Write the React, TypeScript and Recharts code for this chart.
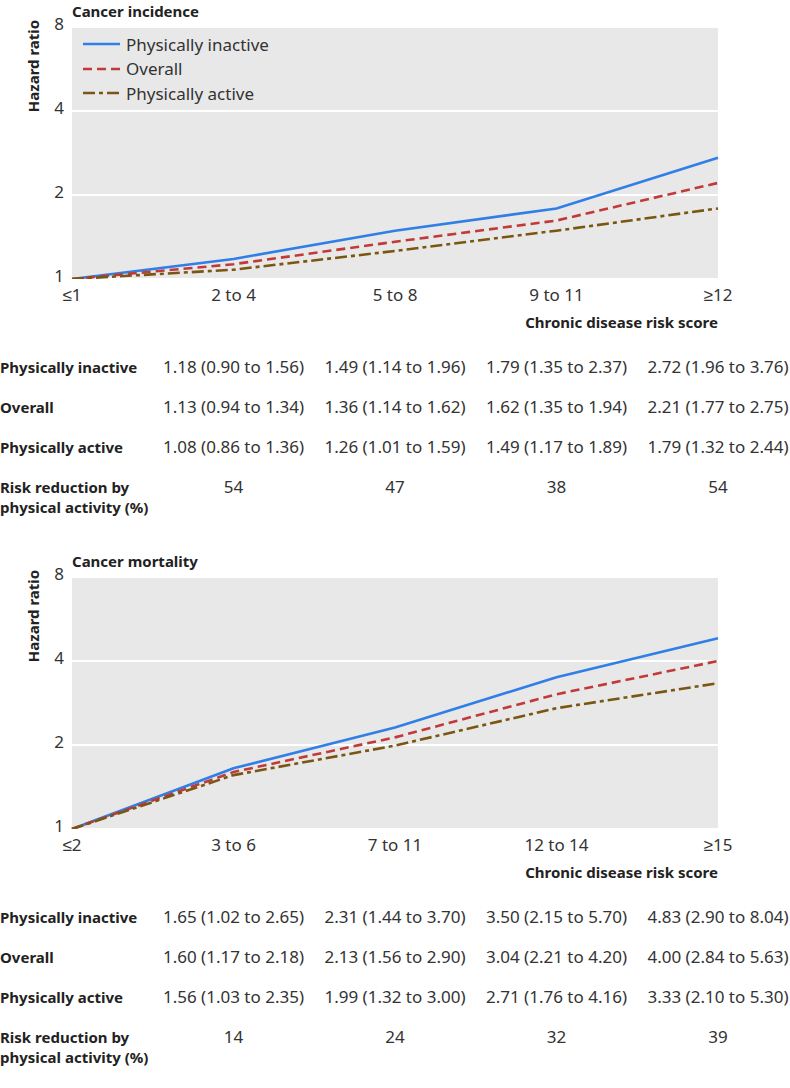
import { LineChart, Line, XAxis, YAxis, CartesianGrid } from 'recharts'

const incidenceCats = ['≤1', '2 to 4', '5 to 8', '9 to 11', '≥12']
const incidenceInactive = [1, 1.18, 1.49, 1.79, 2.72]
const incidenceOverall = [1, 1.13, 1.36, 1.62, 2.21]
const incidenceActive = [1, 1.08, 1.26, 1.49, 1.79]
const incidenceInactiveCI = [[0.9, 1.56], [1.14, 1.96], [1.35, 2.37], [1.96, 3.76]]
const incidenceOverallCI = [[0.94, 1.34], [1.14, 1.62], [1.35, 1.94], [1.77, 2.75]]
const incidenceActiveCI = [[0.86, 1.36], [1.01, 1.59], [1.17, 1.89], [1.32, 2.44]]
const incidenceReduction = [54, 47, 38, 54]

const mortalityCats = ['≤2', '3 to 6', '7 to 11', '12 to 14', '≥15']
const mortalityInactive = [1, 1.65, 2.31, 3.5, 4.83]
const mortalityOverall = [1, 1.6, 2.13, 3.04, 4.0]
const mortalityActive = [1, 1.56, 1.99, 2.71, 3.33]
const mortalityInactiveCI = [[1.02, 2.65], [1.44, 3.7], [2.15, 5.7], [2.9, 8.04]]
const mortalityOverallCI = [[1.17, 2.18], [1.56, 2.9], [2.21, 4.2], [2.84, 5.63]]
const mortalityActiveCI = [[1.03, 2.35], [1.32, 3.0], [1.76, 4.16], [2.1, 5.3]]
const mortalityReduction = [14, 24, 32, 39]

const yTicks = [1, 2, 4, 8]

const FONT = '"Noto Sans", sans-serif'
const FS = 17 // regular text
const FB = 15 // bold labels
const BLUE = '#2f7fe6'
const RED = '#c2393a'
const BROWN = '#7a5612'

const PLOT_LEFT = 72
const PLOT_RIGHT = 718
const PLOT_TOP = 27
const PLOT_BOTTOM = 279
const colX = (i: number) => PLOT_LEFT + ((PLOT_RIGHT - PLOT_LEFT) / 4) * i

const series = [
  { key: 'inactive', name: 'Physically inactive', color: BLUE, dash: undefined },
  { key: 'overall', name: 'Overall', color: RED, dash: '9 5' },
  { key: 'active', name: 'Physically active', color: BROWN, dash: '12 4 4 4' },
]

const fmt = (v: number) => v.toFixed(2)
const ciText = (vals: number[], ci: number[][]) =>
  vals.slice(1).map((v, i) => `${fmt(v)} (${fmt(ci[i][0])} to ${fmt(ci[i][1])})`)

function LegendBox() {
  return (
    <div style={{ position: 'absolute', left: 82, top: 32, fontFamily: FONT }}>
      {series.map((s) => (
        <div key={s.key} style={{ display: 'flex', alignItems: 'center', height: 24.5 }}>
          <svg width={40} height={6} style={{ marginRight: 4 }}>
            <line x1={1} y1={3} x2={38} y2={3} stroke={s.color} strokeWidth={2.6} strokeDasharray={s.dash} />
          </svg>
          <span style={{ fontSize: FS, color: '#333' }}>{s.name}</span>
        </div>
      ))}
    </div>
  )
}

interface PanelProps {
  top: number
  title: string
  cats: string[]
  inactive: number[]
  overall: number[]
  active: number[]
  inactiveCI: number[][]
  overallCI: number[][]
  activeCI: number[][]
  reduction: number[]
  showLegend: boolean
}

function Panel(p: PanelProps) {
  const data = p.cats.map((c, i) => ({
    cat: c,
    inactive: p.inactive[i],
    overall: p.overall[i],
    active: p.active[i],
  }))
  const rows = [
    { label: 'Physically inactive', vals: ciText(p.inactive, p.inactiveCI), y: 340 },
    { label: 'Overall', vals: ciText(p.overall, p.overallCI), y: 380 },
    { label: 'Physically active', vals: ciText(p.active, p.activeCI), y: 420 },
  ]
  const base = p.top - PLOT_TOP
  const lbl = { position: 'absolute' as const, fontSize: FB, fontWeight: 700, color: '#222', lineHeight: '20px' }
  const val = { position: 'absolute' as const, fontSize: FS, color: '#333', lineHeight: '20px', transform: 'translateX(-50%)', whiteSpace: 'nowrap' as const }

  return (
    <div style={{ position: 'absolute', left: 0, top: base, width: 790, height: 520, fontFamily: FONT }}>
      <div style={{ ...lbl, left: PLOT_LEFT, top: 1 }}>{p.title}</div>
      <div style={{ ...lbl, left: 33, top: 66, transform: 'translate(-50%, -50%) rotate(-90deg)', whiteSpace: 'nowrap' }}>
        Hazard ratio
      </div>
      <div style={{ position: 'absolute', left: 0, top: 0 }}>
        <LineChart width={790} height={310} data={data} margin={{ top: PLOT_TOP, right: 790 - PLOT_RIGHT, bottom: 0, left: 0 }}>
          <CartesianGrid fill="#e8e8e8" stroke="#fff" strokeWidth={2} vertical={false} />
          <XAxis
            dataKey="cat"
            height={310 - PLOT_BOTTOM}
            axisLine={false}
            tickLine={false}
            tick={{ fontSize: FS, fill: '#333', fontFamily: FONT }}
            tickMargin={4}
          />
          <YAxis
            scale="log"
            domain={[1, 8]}
            ticks={yTicks}
            width={PLOT_LEFT}
            axisLine={false}
            tickLine={false}
            tick={{ fontSize: FS, fill: '#333', fontFamily: FONT, dy: -3 }}
            tickMargin={2}
            allowDataOverflow
          />
          {series.map((s) => (
            <Line
              key={s.key}
              dataKey={s.key}
              name={s.name}
              stroke={s.color}
              strokeWidth={2.6}
              strokeDasharray={s.dash}
              dot={false}
              type="linear"
              isAnimationActive={false}
            />
          ))}
        </LineChart>
      </div>
      {p.showLegend && <LegendBox />}
      <div style={{ ...lbl, right: 790 - PLOT_RIGHT, top: 312 }}>Chronic disease risk score</div>
      {rows.map((r) => (
        <div key={r.label}>
          <div style={{ ...lbl, left: 0, top: PLOT_TOP + r.y - 10 }}>{r.label}</div>
          {r.vals.map((v, i) => (
            <div key={i} style={{ ...val, left: colX(i + 1), top: PLOT_TOP + r.y - 10 }}>
              {v}
            </div>
          ))}
        </div>
      ))}
      <div style={{ ...lbl, left: 0, top: PLOT_TOP + 460 - 10 }}>
        Risk reduction by
        <br />
        physical activity (%)
      </div>
      {p.reduction.map((v, i) => (
        <div key={i} style={{ ...val, left: colX(i + 1), top: PLOT_TOP + 460 - 10 }}>
          {v}
        </div>
      ))}
    </div>
  )
}

export default function App() {
  return (
    <div style={{ position: 'absolute', left: 0, top: 0, width: 790, height: 1088, background: '#fff' }}>
      <Panel
        top={27}
        title="Cancer incidence"
        cats={incidenceCats}
        inactive={incidenceInactive}
        overall={incidenceOverall}
        active={incidenceActive}
        inactiveCI={incidenceInactiveCI}
        overallCI={incidenceOverallCI}
        activeCI={incidenceActiveCI}
        reduction={incidenceReduction}
        showLegend
      />
      <Panel
        top={577}
        title="Cancer mortality"
        cats={mortalityCats}
        inactive={mortalityInactive}
        overall={mortalityOverall}
        active={mortalityActive}
        inactiveCI={mortalityInactiveCI}
        overallCI={mortalityOverallCI}
        activeCI={mortalityActiveCI}
        reduction={mortalityReduction}
        showLegend={false}
      />
    </div>
  )
}
